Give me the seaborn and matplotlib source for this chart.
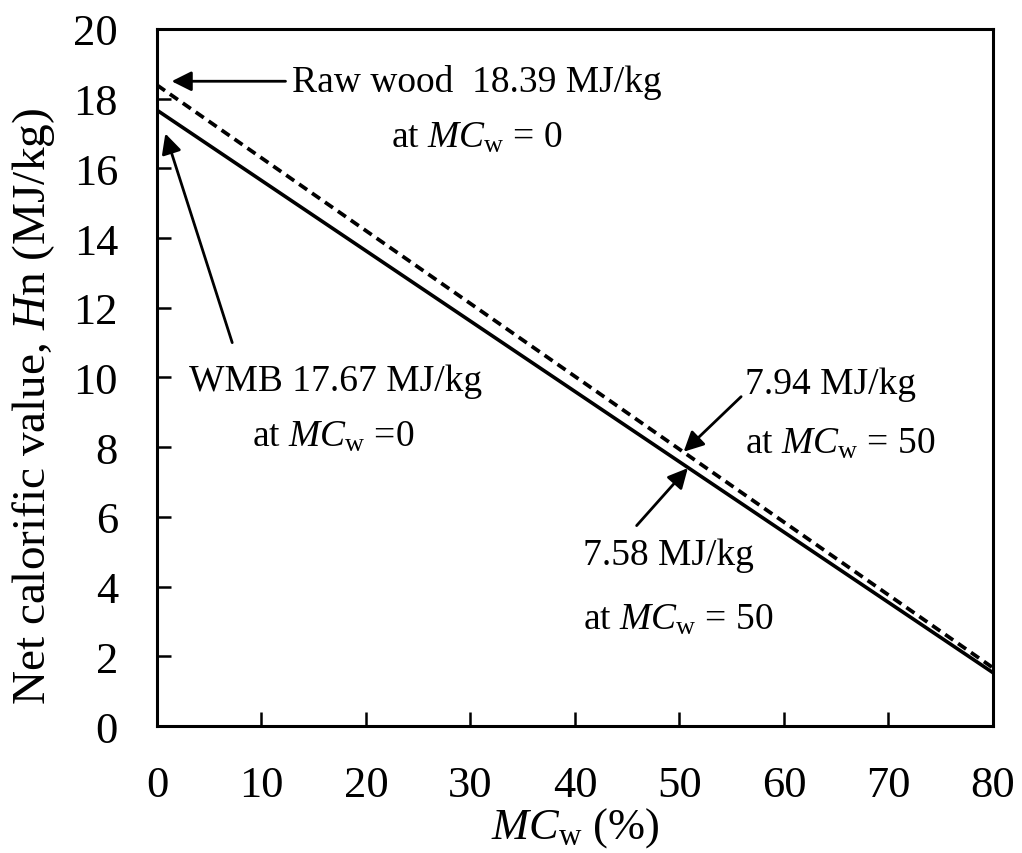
import matplotlib
matplotlib.use("Agg")
import matplotlib.pyplot as plt
import seaborn as sns
import pandas as pd

# Data
mc_w = [0, 50, 80]
raw_wood = [18.39, 7.94, 1.67]
wmb = [17.67, 7.58, 1.53]
x_ticks = [0, 10, 20, 30, 40, 50, 60, 70, 80]
y_ticks = [0, 2, 4, 6, 8, 10, 12, 14, 16, 18, 20]

sns.set_theme(style="white")
plt.rcParams['font.family'] = ['Liberation Serif', 'DejaVu Serif']
plt.rcParams['mathtext.fontset'] = 'custom'
plt.rcParams['mathtext.rm'] = 'Liberation Serif'
plt.rcParams['mathtext.it'] = 'Liberation Serif:italic'
plt.rcParams['mathtext.bf'] = 'Liberation Serif:bold'
plt.rcParams['text.color'] = 'black'
plt.rcParams['axes.labelcolor'] = 'black'

df = pd.DataFrame({"MC": mc_w, "Raw": raw_wood, "WMB": wmb})

fig, ax = plt.subplots(figsize=(10.22, 8.54), dpi=100)
fig.subplots_adjust(left=0.1536, right=0.9716, top=0.9649, bottom=0.1487)

sns.lineplot(data=df, x="MC", y="WMB", ax=ax, color="black", linewidth=2.6)
sns.lineplot(data=df, x="MC", y="Raw", ax=ax, color="black", linewidth=2.7,
             linestyle=(0, (2.6, 1.6)))

ax.set_xlim(0, 80)
ax.set_ylim(0, 20)
ax.set_xticks(x_ticks)
ax.set_yticks(y_ticks)
ax.tick_params(axis='both', direction='in', length=10, width=1.8,
               labelsize=32, colors='black', bottom=True, left=True)
ax.tick_params(axis='x', pad=28)
ax.tick_params(axis='y', pad=28)
for s in ax.spines.values():
    s.set_linewidth(2.2)
    s.set_color('black')

ax.set_xlabel(r'$\mathit{MC}_{\mathrm{w}}$ (%)', fontsize=32, labelpad=0)
ax.set_ylabel(r'Net calorific value, $\mathit{H}$n (MJ/kg)', fontsize=34)
ax.yaxis.set_label_coords(-0.12, 0.46)

fs = 27
ap = dict(arrowstyle='-|>', mutation_scale=30, lw=2, color='black',
          shrinkA=0, shrinkB=0)

ax.annotate('', xy=(1.4, 18.5), xytext=(12.3, 18.5), arrowprops=ap)
ax.text(12.9, 18.5, 'Raw wood  18.39 MJ/kg', fontsize=fs, va='center', ha='left')
ax.text(30.6, 16.9, r'at $\mathit{MC}_{\mathrm{w}}$ = 0', fontsize=fs, va='center', ha='center')

ax.annotate('', xy=(0.8, 17.0), xytext=(7.2, 11.0), arrowprops=ap)
ax.text(17.1, 9.9, 'WMB 17.67 MJ/kg', fontsize=fs, va='center', ha='center')
ax.text(16.9, 8.3, r'at $\mathit{MC}_{\mathrm{w}}$ =0', fontsize=fs, va='center', ha='center')

ax.annotate('', xy=(50.4, 7.87), xytext=(55.9, 9.45), arrowprops=ap)
ax.text(56.3, 9.83, '7.94 MJ/kg', fontsize=fs, va='center', ha='left')
ax.text(56.3, 8.1, r'at $\mathit{MC}_{\mathrm{w}}$ = 50', fontsize=fs, va='center', ha='left')

ax.annotate('', xy=(50.8, 7.4), xytext=(45.9, 5.75), arrowprops=ap)
ax.text(40.8, 4.9, '7.58 MJ/kg', fontsize=fs, va='center', ha='left')
ax.text(40.8, 3.07, r'at $\mathit{MC}_{\mathrm{w}}$ = 50', fontsize=fs, va='center', ha='left')

fig.savefig("out.png", dpi=100)
